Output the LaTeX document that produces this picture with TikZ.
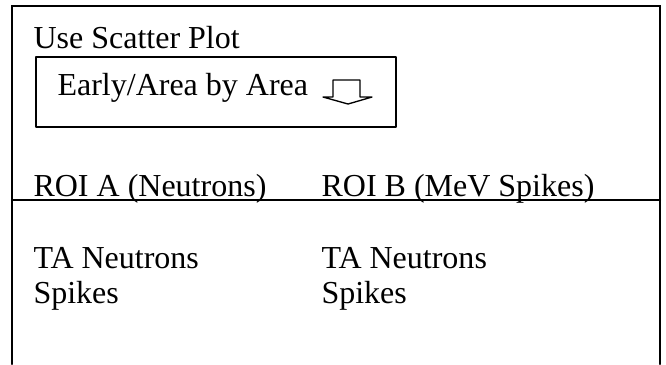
\documentclass[tikz,border=0pt]{standalone}
\usepackage{fontspec}
\setmainfont{Liberation Serif}
\usepackage{tkz-euclide}
\tikzset{>=stealth}
\tikzset{lbl/.style={anchor=base west, inner sep=0pt, font=\fontsize{12}{14}\selectfont}}

\begin{document}
\begin{tikzpicture}[scale=0.13177]
\useasboundingbox (0,0) rectangle (66.6,-36.4);
\tkzDefPoints{1.2/-36.4/A, 1.2/-0.6/B, 66/-0.6/C, 66/-36.4/D, 1.2/-20/E, 66/-20/F}
\tkzDefPoints{3.6/-5.7/G, 39.6/-5.7/H, 39.6/-12.7/I, 3.6/-12.7/J}
% down arrow
\tkzDefPoints{33.3/-9.7/K, 33.3/-8/L, 36/-8/M, 36/-9.7/N, 37.2/-9.7/P, 34.8/-10.4/Q, 32.3/-9.7/R}
\tkzDrawPolySeg[line width=1pt](A,B,C,D)
\tkzDrawSegment[line width=0.8pt](E,F)
\tkzDrawPolygon[line width=0.9pt](G,H,I,J)
\tkzDrawPolygon[line width=0.5pt](K,L,M,N,P,Q,R)
\node[lbl] (use) at (3.3,-4.8) {Use Scatter Plot};
\node[lbl] (early) at (5.7,-9.5) {Early/Area by Area};
\node[lbl] (roia) at (3.3,-19.6) {ROI A (Neutrons)};
\node[lbl] (roib) at (32.1,-19.6) {ROI B (MeV Spikes)};
\node[lbl] (taa) at (3.3,-26.8) {TA Neutrons};
\node[lbl] (spa) at (3.3,-30.3) {Spikes};
\node[lbl] (tab) at (32.1,-26.8) {TA Neutrons};
\node[lbl] (spb) at (32.1,-30.3) {Spikes};
\end{tikzpicture}
\end{document}
